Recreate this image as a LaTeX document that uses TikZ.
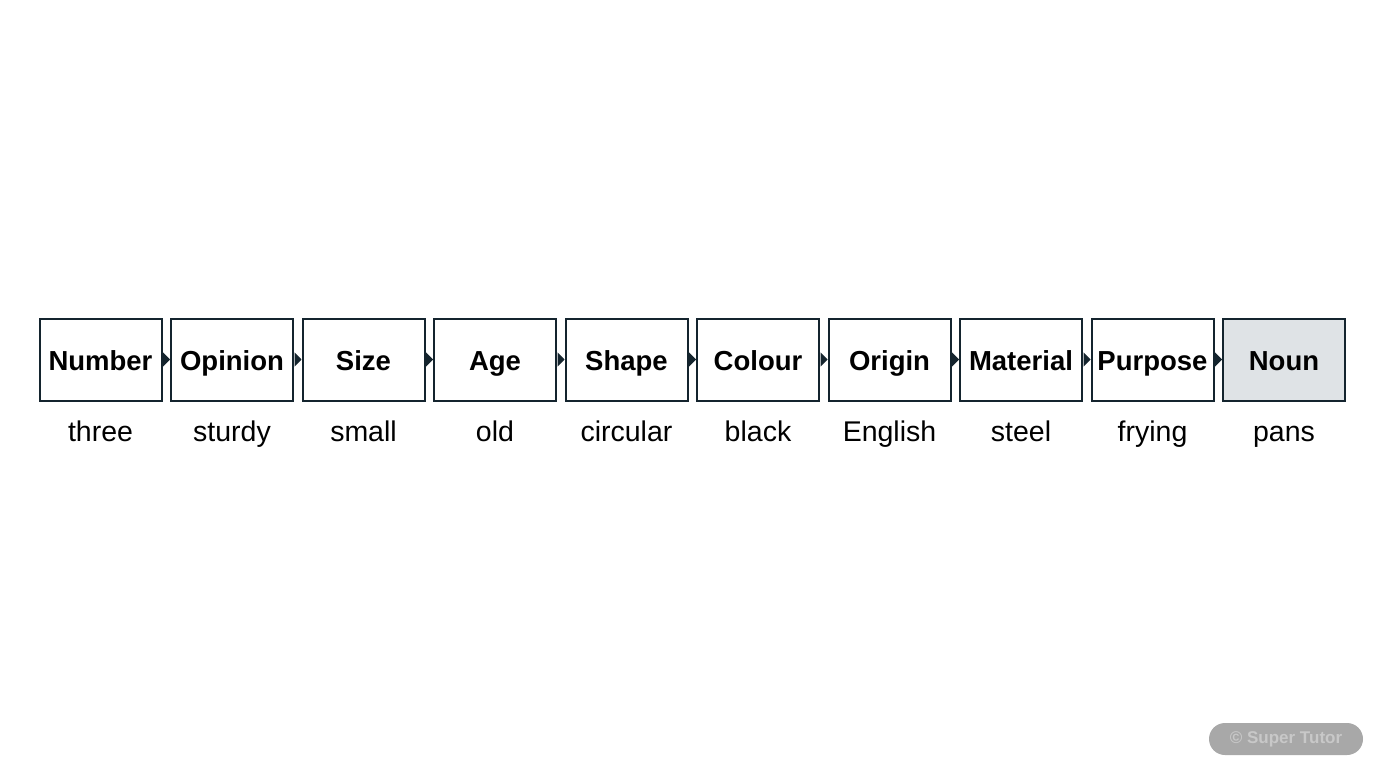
\documentclass[tikz,border=0pt]{standalone}
\usepackage{fontspec}
\setmainfont{Liberation Sans}
\usetikzlibrary{arrows.meta}
\definecolor{edge}{HTML}{14242E}
\definecolor{nounfill}{HTML}{DFE3E6}
\definecolor{pill}{HTML}{A8A8A8}
\definecolor{pilltext}{HTML}{C8C8C8}
\tikzset{
  catbox/.style={draw=edge, line width=2pt, fill=white, minimum width=122pt, minimum height=82pt, inner sep=0pt, text height=21pt, text depth=0pt, font=\fontsize{27.5}{30}\selectfont\bfseries},
  wordlbl/.style={font=\fontsize{28.5}{32}\selectfont, text=black, inner sep=0pt},
  link/.style={draw=edge, line width=1pt, -{Triangle[length=7pt,width=14pt]}, shorten <=1pt}
}
\begin{document}
\begin{tikzpicture}[x=1pt,y=-1pt]
\useasboundingbox[fill=white] (0,0) rectangle (1376,768);
\foreach \i/\cat/\word in {0/Number/three,1/Opinion/sturdy,2/Size/small,3/Age/old,4/Shape/circular,5/Colour/black,6/Origin/English,7/Material/steel,8/Purpose/frying,9/Noun/pans}{
  \node[catbox] (b\i) at ({100.5+131.5*\i},359.5) {\cat};
  \node[wordlbl, anchor=base] (w\i) at ({100.5+131.5*\i},441) {\word};
}
\node[catbox, fill=nounfill] (b9) at ({100.5+131.5*9},359.5) {Noun};
\foreach \i [evaluate=\i as \j using int(\i+1)] in {0,...,8}{
  \draw[link] (b\i.east) -- (b\j.west);
}
\node[fill=pill, rounded corners=16pt, minimum width=154pt, minimum height=32pt, inner sep=0pt, text=pilltext, font=\fontsize{17}{20}\selectfont\bfseries] (wm) at (1286,739) {© Super Tutor};
\end{tikzpicture}
\end{document}
